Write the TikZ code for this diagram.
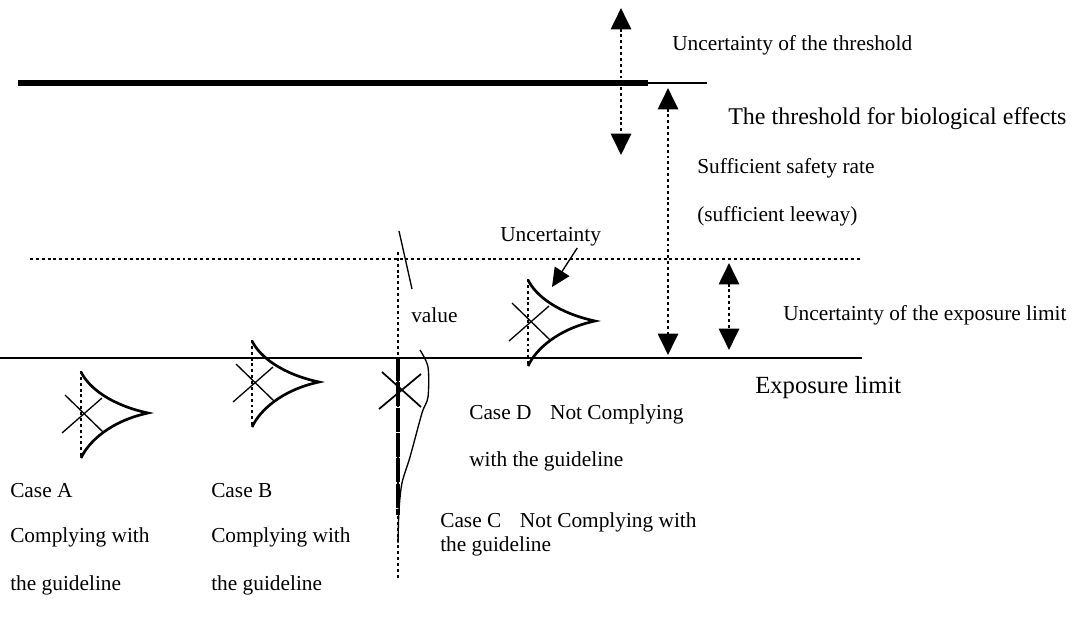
\documentclass[tikz,border=0pt]{standalone}
\usepackage{fontspec}
\setmainfont{Liberation Serif}
\usetikzlibrary{arrows.meta, positioning}

\begin{document}
\begin{tikzpicture}[x=0.75pt, y=-0.75pt]
\tikzstyle{txt}=[font=\fontsize{16}{19}\selectfont, inner sep=0pt, anchor=west]
\tikzstyle{big}=[font=\fontsize{18}{21}\selectfont, inner sep=0pt, anchor=west]
\tikzstyle{dots}=[line width=2.2pt, dash pattern=on 2.2pt off 2.2pt]
\tikzstyle{twoway}=[dots, {Triangle[length=16pt,width=15pt]}-{Triangle[length=16pt,width=15pt]}]
\tikzstyle{limit}=[line width=1.5pt]
\tikzstyle{spread}=[line width=2pt]
\tikzstyle{cross}=[line width=1pt]
\useasboundingbox (0,0) rectangle (1075,626);
% threshold and limits
\draw[line width=5pt] (18,83) -- (648,83);
\draw[line width=1pt] (648,83) -- (707,83);
\draw[dots] (30,259) -- (860,259);
\draw[limit] (0,358) -- (862,358);
% arrows
\coordinate (thrtop) at (621,8);
\coordinate (thrbot) at (621,155);
\coordinate (safetop) at (668,88);
\coordinate (safebot) at (668,355);
\coordinate (limtop) at (729,263);
\coordinate (limbot) at (729,350);
\draw[twoway] (thrtop) -- (thrbot);
\draw[twoway] (safetop) -- (safebot);
\draw[twoway] (limtop) -- (limbot);
% labels
\node[txt] (thrunc) at (672,45) {Uncertainty of the threshold};
\node[big] (thr) at (728,119) {The threshold for biological effects};
\node[txt] (safe) at (697,168) {Sufficient safety rate};
\node[txt] (leeway) at (697,216) {(sufficient leeway)};
\node[txt] (unc) at (500,237) {Uncertainty};
\node[txt] (val) at (411,315) {value};
\node[txt] (limunc) at (783,315) {Uncertainty of the exposure limit};
\node[big, font=\fontsize{18.5}{22}\selectfont] (lim) at (755,388) {Exposure limit};
\node[txt] (cased) at (469,414) {Case D\hspace{14pt}Not Complying};
\node[txt] (cased2) at (469,461) {with the guideline};
\node[txt] (casec) at (440,522) {Case C\hspace{14pt}Not Complying with};
\node[txt] (casec2) at (440,546) {the guideline};
\node[txt] (casea) at (10,491) {Case A};
\node[txt] (casea2) at (10,537) {Complying with};
\node[txt] (casea3) at (10,585) {the guideline};
\node[txt] (caseb) at (211,491) {Case B};
\node[txt] (caseb2) at (211,537) {Complying with};
\node[txt] (caseb3) at (211,585) {the guideline};
% spreads of the exposure
\foreach \cx/\cy in {81/413, 252/382, 528/321} {
  \begin{scope}[shift={(\cx,\cy)}]
    \draw[dots] (0,-42) -- (0,45);
    \draw[spread] (0,-41) .. controls (8,-25) and (30,-8) .. (67,0)
      .. controls (30,8) and (8,28) .. (0,45);
    \draw[cross] (-16,-18) -- (22,19) (-19,20) -- (21,-15);
  \end{scope}
}
% case C
\draw[dots] (398,252) -- (398,578);
\draw[line width=2.4pt, dash pattern=on 18pt off 1pt] (398,357) -- (398,515);
\draw[line width=1pt] plot[smooth] coordinates {(420,350) (428,367) (428,397) (422,413) (410,457) (402,483) (399,510) (398,543)};
\draw[line width=1.3pt] (382,372) -- (421,407) (379,409) -- (421,374);
\draw[line width=1pt] (399,231) -- (412,289);
\coordinate (unctip) at (552,287);
\draw[line width=1pt, -{Triangle[length=14pt,width=13pt]}] ([xshift=-18pt,yshift=-1pt]unc.south east) -- (unctip);
\end{tikzpicture}
\end{document}
